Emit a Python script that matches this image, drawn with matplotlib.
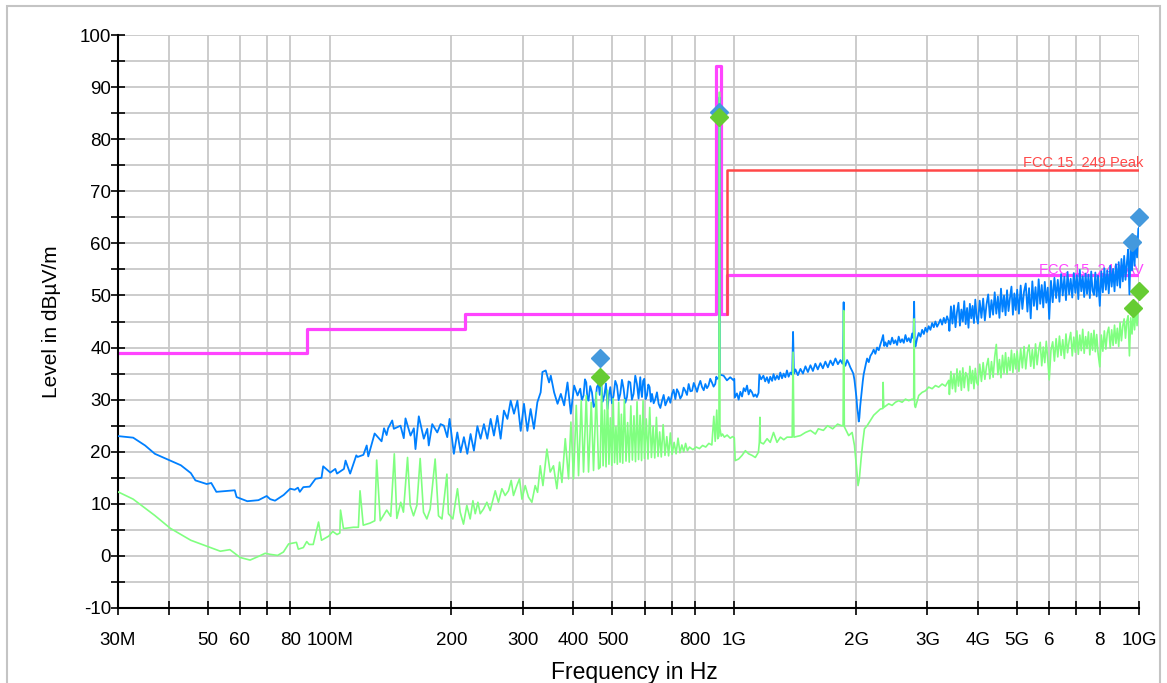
import matplotlib
matplotlib.use("Agg")
import matplotlib.pyplot as plt
from matplotlib.patches import Rectangle
from matplotlib.ticker import FixedLocator, FixedFormatter, NullLocator, MultipleLocator

plt.rcParams['font.family'] = ['Liberation Sans', 'DejaVu Sans']
plt.rcParams['axes.unicode_minus'] = False

# frequencies in MHz, levels in dBuV/m

# --- peak trace (blue) ---
peak_freq_low = [30, 32.7, 35, 37, 40.4, 42.9, 45.4, 46.6, 49.7, 51, 52.5, 58.3, 58.9, 62.6, 66.7,
                 69.9, 71.3, 73.3, 77, 79.9, 82, 83.5, 84.4, 86.1, 89.3, 92.3, 95.5, 96.4, 100.4,
                 103.3, 104.3, 108.5, 109.5, 112.4, 116.4, 117.3, 121.2, 123.5, 124.6, 129.2,
                 134.4, 136.3, 138.3, 139.5, 142.8]
peak_level_low = [23.0, 22.7, 21.2, 19.6, 18.3, 17.4, 15.9, 14.5, 13.8, 14.0, 12.3, 12.6, 11.3, 10.5, 10.7,
                  11.5, 10.9, 10.6, 11.7, 12.9, 12.7, 13.1, 12.3, 13.2, 13.3, 14.8, 15.0, 17.2, 16.0,
                  16.7, 15.8, 16.7, 18.3, 15.8, 19.3, 19.0, 19.4, 21.2, 19.1, 23.5,
                  22.0, 24.5, 23.2, 24.5, 26.0]

peak_freq_mid = [144.1, 149.7, 152.5, 154, 158.5, 161.5, 163, 166.1, 170.9, 174.3, 175.8, 179.3, 184.5,
                 188, 191.6, 195.3, 197.9, 202.8, 206.8, 210.7, 214.7, 218.9, 223, 227.3, 231.8, 236.1,
                 240.6, 245.3, 250, 254.7, 259.7, 264.6, 269.6, 275, 280.2, 285.5, 291.1, 296.6, 302.2,
                 308.1, 313.8, 319.8, 326.1, 332.3, 335.6, 342, 348.6, 352, 358.7, 365.8, 372.7, 379.8,
                 387.1, 394.5, 402, 409.9]
peak_level_mid = [24.4, 25.0, 22.6, 26.4, 23.1, 24.5, 20.5, 26.8, 22.5, 24.4, 21.2, 25.3, 23.7,
                  25.3, 25.0, 22.8, 26.3, 19.6, 23.7, 19.9, 22.8, 19.6, 23.4, 20.2, 24.9, 22.5,
                  25.3, 22.5, 26.3, 23.1, 26.9, 22.5, 27.9, 26.3, 29.8, 27.3, 29.8, 24.0, 29.2,
                  24.0, 28.2, 24.4, 29.5, 31.4, 35.3, 35.6, 33.3, 34.6, 31.4, 29.2, 31.1, 28.9,
                  33.3, 27.3, 32.7, 30.8]

peak_freq_uhf = [416.2, 420, 424.1, 427.5, 430.7, 433.5, 436.3, 440.5, 444.9, 449,
                 453.4, 457.6, 462, 465, 468.4, 472.8, 477.3, 481.8, 486.3, 490,
                 493.8, 498.5, 503.2, 508, 512.9, 517.8, 522.7, 527.7, 532.7, 537.8,
                 543, 548, 553.3, 558.5, 563.8, 569.2, 574.7, 580, 585.7, 588.5,
                 591.4, 595.3, 599.2, 603.8, 608.4, 613, 617.6, 622, 626.1, 632,
                 638, 644, 650.1, 656.5, 662.9, 669, 675.5, 682, 688.2, 695,
                 701.7, 708, 715, 721.5, 728.2, 735.3, 742.6, 749.6, 756.7, 764,
                 771.3, 779, 786.5, 794, 801.4, 808.9, 816.4, 824.4, 832.4, 840.3,
                 848.3, 856, 863.5, 872, 880.4, 888.8, 897.2, 902.6, 908,
                 916.5, 917.5, 920.5, 921.5]
peak_level_uhf = [32.1, 29.9, 30.8, 33.9, 33.3, 30.2, 29.8, 32.6, 31.4, 28.6,
                  29.2, 32.4, 33.0, 30.9, 34.0, 29.6, 30.8, 33.1, 28.2, 31.0,
                  32.4, 29.3, 30.8, 33.6, 32.7, 29.9, 31.1, 33.8, 32.1, 29.4,
                  30.5, 33.5, 33.3, 30.0, 31.1, 34.6, 33.0, 30.2, 34.3, 31.8,
                  30.5, 33.6, 34.0, 30.1, 30.8, 32.9, 32.4, 29.6, 31.1, 29.3,
                  30.1, 31.4, 29.2, 28.4, 29.8, 30.9, 28.9, 29.7, 30.5, 29.4,
                  31.1, 31.9, 30.1, 32.0, 31.4, 30.2, 30.8, 32.3, 31.7, 30.9,
                  33.0, 31.6, 31.7, 33.2, 32.4, 31.5, 32.7, 33.6, 32.4, 31.8,
                  33.0, 32.2, 32.7, 34.0, 33.3, 32.5, 33.0, 34.4, 34.0,
                  34.2, 88.0, 88.0, 34.8]

peak_freq_1g = [941, 959, 977, 996, 1000, 1003, 1015, 1025, 1035, 1045, 1055, 1065, 1075, 1085, 1095,
                1106, 1116, 1127, 1137, 1148, 1153, 1165, 1180, 1192, 1204, 1216, 1227, 1240, 1250,
                1262, 1275, 1288, 1299, 1312, 1324, 1337, 1349, 1362, 1376, 1390, 1397, 1404, 1416,
                1436, 1457, 1478, 1499, 1520, 1542, 1564, 1586, 1608, 1632, 1655, 1679, 1703, 1728,
                1752, 1778, 1803, 1829, 1850, 1857, 1863, 1869]
peak_level_1g = [34.6, 33.7, 34.3, 33.7, 34.0, 30.4, 31.2, 30.0, 31.5, 30.6, 32.2, 31.6, 32.7, 31.0, 31.9,
                 31.4, 30.6, 31.0, 30.5, 31.3, 34.8, 33.9, 34.6, 33.5, 34.3, 33.2, 34.4, 33.6, 34.9,
                 33.8, 34.6, 33.9, 35.2, 34.1, 35.0, 34.3, 35.6, 34.4, 35.2, 34.8, 43.0, 35.0, 35.8,
                 34.7, 35.9, 35.0, 36.4, 35.3, 36.6, 35.5, 36.9, 35.8, 37.0, 36.0, 37.3, 36.2, 37.5,
                 36.6, 37.9, 36.8, 37.6, 36.9, 37.8, 48.7, 37.0]

peak_freq_2g = [1881, 1900, 1917, 1935, 1955, 1968, 1981, 1993, 2003, 2012, 2022, 2030, 2037, 2047,
                2057, 2067, 2077, 2087, 2097, 2113, 2129, 2149, 2169, 2190, 2210, 2231, 2253, 2275,
                2296, 2314, 2332, 2347, 2363, 2385, 2407, 2430, 2454, 2478, 2501, 2525, 2548, 2573,
                2598, 2623, 2648, 2673, 2698, 2725, 2751, 2770, 2782, 2792, 2803, 2830, 2856, 2884,
                2912, 2940, 2967, 2995, 3022, 3052, 3082, 3111, 3140, 3170, 3199, 3231, 3262, 3293,
                3324, 3355, 3387]
peak_level_2g = [36.5, 37.6, 37.0, 36.2, 35.5, 35.0, 33.8, 32.0, 30.5, 28.5, 27.2, 25.8, 26.5, 28.8,
                 30.4, 32.0, 33.5, 34.8, 35.6, 36.8, 37.9, 37.2, 38.4, 38.9, 39.6, 38.8, 40.0, 39.5,
                 40.6, 41.4, 42.4, 40.3, 41.0, 40.2, 41.3, 40.6, 41.9, 40.8, 41.4, 40.5, 42.1, 41.0,
                 41.6, 40.9, 42.4, 41.2, 41.8, 41.0, 42.7, 41.8, 48.8, 40.8, 40.2, 41.8, 42.8, 42.1,
                 43.4, 42.6, 43.8, 43.0, 44.1, 43.4, 44.7, 43.9, 45.0, 44.0, 44.6, 45.4, 44.4, 45.7,
                 44.7, 46.0, 45.0]

# sweep points 3.4 GHz - 10 GHz shared by both detectors
freq_hi = [3400, 3430, 3460, 3490, 3520, 3550, 3580, 3610, 3640, 3670, 3700, 3730, 3760, 3790, 3820,
           3850, 3880, 3910, 3940, 3970,
           4000, 4040, 4080, 4120, 4160, 4200, 4240, 4280, 4320, 4360, 4400, 4440, 4480, 4520, 4560,
           4600, 4640, 4680, 4720, 4760, 4800, 4840, 4880, 4920, 4960,
           5000, 5050, 5100, 5150, 5200, 5250, 5300, 5350, 5400, 5450, 5500, 5550, 5600, 5650, 5700,
           5750, 5800, 5850, 5900, 5950,
           6000, 6060, 6120, 6180, 6240, 6300, 6360, 6420, 6480, 6540, 6600, 6660, 6720, 6780, 6840,
           6900, 6960, 7020, 7080, 7140, 7200, 7260, 7320, 7380, 7440, 7500, 7560, 7620, 7680, 7740,
           7800, 7860, 7920,
           8000, 8070, 8140, 8210, 8280, 8350, 8420, 8490, 8560, 8630, 8700, 8770, 8840, 8910, 8980,
           9050, 9120, 9190, 9260, 9330, 9400, 9470, 9540, 9610, 9680, 9750, 9820, 9890, 9960, 10000]
peak_level_hi = [43.2, 47.9, 44.6, 48.1, 43.9, 46.8, 48.6, 44.2, 47.3, 45.0, 48.9, 44.5, 47.6, 43.8, 48.4,
                 45.6, 48.0, 44.7, 49.2, 45.9,
                 44.6, 49.0, 45.7, 49.4, 45.2, 48.3, 50.2, 45.8, 49.1, 46.3, 50.6, 46.5, 49.8, 45.7, 51.3,
                 46.9, 50.0, 46.2, 51.0, 47.0, 49.6, 51.7, 46.3, 50.4, 47.2,
                 51.1, 46.5, 51.9, 47.4, 50.8, 52.3, 46.9, 51.4, 45.6, 52.7, 48.0, 51.6, 47.3, 53.1, 48.4,
                 52.0, 47.7, 52.6, 48.6, 51.5,
                 45.5, 52.8, 48.7, 53.4, 49.5, 53.0, 48.8, 54.1, 50.0, 53.6, 49.1, 54.5, 50.2, 53.2, 49.6,
                 54.3, 50.5, 53.9, 49.3, 54.9, 50.8, 53.7, 49.7, 54.2, 50.3, 54.0, 49.5, 54.6, 50.9, 50.1,
                 54.4, 49.8, 53.8,
                 48.0, 54.6, 50.6, 55.2, 51.1, 54.8, 50.4, 55.7, 51.7, 55.1, 50.8, 56.0, 51.9, 56.4, 51.5,
                 57.0, 52.7, 57.6, 53.0, 56.2, 58.8, 50.2, 59.5, 54.8, 60.8, 55.7, 61.4, 57.3, 62.8, 63.0]

# --- average trace (green) ---
avg_freq_low = [30, 32.7, 37.0, 40.4, 45.4, 50.2, 53.7, 56.7, 60.1, 63.6, 66.7, 69.3, 71.3, 74.4, 76.9,
                79.2, 82.8, 83.7, 86.1, 87.8, 89.0, 91.1, 93.9, 95.5, 99.5, 101.8, 104.3, 106.0, 106.4,
                108.2, 114.5, 117.8, 118.9, 121.1, 125.9, 129.3, 130.7, 133.4, 138.4, 141.6, 144.5, 146.6]
avg_level_low = [12.3, 10.9, 7.75, 5.3, 3.0, 1.75, 0.9, 1.2, -0.3, -0.8, -0.1, 0.5, 0.3, 0.1, 0.75,
                 2.3, 2.6, 1.3, 1.6, 2.75, 2.2, 2.2, 6.5, 3.0, 3.8, 4.7, 4.1, 4.4, 8.8,
                 5.25, 5.5, 5.5, 12.5, 5.9, 6.3, 6.75, 18.4, 6.75, 8.8, 7.6, 19.6, 7.2]

avg_freq_mid = [149.9, 152.2, 155.8, 158.2, 161.2, 164.3, 167.4, 170.6, 173.9, 177.2, 182.3, 185.8, 189.5,
                194.9, 196.6, 201.6, 207, 210.2, 214.2, 218.3, 222.5, 226, 229, 232.5, 235.6, 240, 244.7,
                249.3, 256.6, 261.3, 266.5, 271.5, 276.7, 281, 284.7, 290.2, 294.6, 298.7, 304.3, 310,
                316.1, 322.1, 326.5, 331.5, 336.6, 344.3, 350.8, 357.4, 364.4, 370, 375, 382.2, 389.4,
                394.7, 400.6, 406.9, 412.2, 418.6, 424.1, 430.7, 436.3, 443.1, 448.9, 455.9, 462]
avg_level_mid = [10.3, 8.4, 18.9, 9.7, 7.7, 9.7, 18.7, 8.4, 7.1, 9.0, 18.6, 7.7, 7.1,
                 15.7, 8.1, 7.1, 12.9, 8.4, 6.1, 9.7, 7.1, 10.6, 8.1, 10.3, 8.1, 9.0, 10.3,
                 8.7, 12.5, 10.3, 12.9, 11.6, 12.5, 14.5, 11.6, 13.5, 14.8, 10.9, 13.5, 11.3,
                 10.3, 13.5, 12.2, 17.3, 13.5, 20.5, 16.1, 17.3, 12.9, 18.0, 14.1, 22.5, 14.8,
                 25.7, 14.8, 28.9, 15.4, 29.8, 16.1, 30.8, 16.1, 29.5, 16.4, 31.4, 16.7]

avg_freq_uhf = [466, 470, 474, 478, 482, 486, 490, 494, 498, 502, 506, 510, 514, 518, 522, 526, 530,
                535, 540, 545, 550, 555, 560, 565, 570, 575, 580, 585, 590, 595, 600, 606, 612, 618,
                624, 630, 636, 642, 648, 654, 660, 667, 674, 681, 688, 695, 702, 710, 718, 726, 734,
                742, 750, 758, 766, 775, 790, 805, 820, 835, 850, 865, 880, 890, 897, 905, 910,
                916.5, 917.5, 920.5, 921.5, 928, 935, 945, 960, 977, 990, 1000]
avg_level_uhf = [17.0, 32.5, 17.3, 28.0, 17.1, 31.8, 17.6, 26.5, 17.4, 30.2, 17.9, 24.8, 17.6, 29.5,
                 18.0, 27.2, 17.8, 30.0, 18.2, 25.6, 18.0, 28.8, 18.4, 26.9, 18.1, 29.6, 18.5, 27.0,
                 18.3, 29.8, 18.7, 26.3, 18.6, 28.5, 18.9, 24.9, 18.8, 26.6, 19.1, 23.8, 19.0, 25.2,
                 19.3, 22.9, 19.2, 23.6, 19.5, 21.8, 19.6, 22.6, 19.8, 21.3, 20.0, 21.6, 20.2, 20.9,
                 20.4, 20.9, 20.6, 21.2, 20.9, 21.6, 21.3, 26.8, 22.0, 28.0, 22.5,
                 23.0, 89.0, 89.0, 24.5, 23.0, 23.4, 22.8, 23.2, 22.6, 22.9, 22.7]

avg_freq_1g = [1005, 1025, 1045, 1065, 1085, 1106, 1127, 1147, 1153, 1157, 1160, 1180, 1205, 1227,
               1250, 1275, 1300, 1325, 1350, 1390, 1397, 1404, 1457, 1499, 1542, 1586, 1613, 1660,
               1700, 1750, 1800, 1840, 1857, 1863, 1870, 1881, 1917, 1955, 1981, 2003, 2022, 2037,
               2057, 2077, 2097, 2129, 2169, 2210, 2253, 2296, 2328, 2332, 2340, 2407, 2454, 2501,
               2548, 2598, 2648, 2698, 2751, 2775, 2782, 2790, 2803, 2856, 2912, 2967, 3022, 3082,
               3140, 3199, 3262, 3324, 3387]
avg_level_1g = [18.3, 18.6, 19.3, 20.2, 19.6, 19.3, 18.9, 19.9, 21.8, 26.6, 21.8, 21.5, 22.5, 21.8,
                23.7, 21.8, 22.8, 22.3, 22.8, 22.8, 39.1, 22.8, 23.1, 23.7, 24.1, 23.4, 24.4, 24.1,
                25.0, 24.4, 25.3, 25.0, 25.0, 47.1, 24.8, 24.4, 23.1, 23.7, 21.2, 17.3, 13.5, 14.8,
                18.6, 21.8, 24.4, 25.0, 26.0, 27.0, 27.6, 28.2, 28.3, 33.3, 28.5, 29.2, 28.9, 29.5,
                29.8, 29.5, 30.1, 29.8, 30.1, 30.0, 45.5, 29.0, 28.5, 30.8, 31.4, 31.7, 32.4, 32.1,
                32.7, 32.4, 33.0, 32.6, 33.7]

avg_level_hi = [31.0, 35.4, 32.1, 34.9, 31.5, 35.9, 32.6, 35.5, 31.8, 36.1, 32.3, 35.2, 34.6, 31.7, 36.4,
                33.1, 35.6, 32.1, 36.0, 33.3,
                32.8, 36.8, 33.5, 37.1, 33.9, 36.4, 37.9, 34.0, 37.3, 34.3, 38.2, 40.6, 34.8, 37.7, 34.2,
                38.5, 35.1, 39.0, 34.9, 38.1, 35.6, 39.5, 35.2, 38.8, 35.9,
                39.3, 35.4, 39.8, 36.1, 40.2, 35.9, 39.1, 40.5, 36.4, 39.6, 36.0, 40.7, 36.7, 39.4, 41.0,
                36.5, 40.1, 37.1, 41.2, 37.7,
                33.8, 39.5, 41.1, 37.4, 41.7, 38.2, 42.2, 38.5, 41.5, 37.9, 42.6, 39.0, 41.3, 42.9, 38.4,
                42.0, 39.1, 43.2, 38.7, 42.4, 39.4, 43.5, 38.9, 42.1, 39.8, 43.0, 38.6, 42.7, 39.5, 43.3,
                39.2, 42.5, 39.0,
                36.3, 42.4, 39.3, 43.2, 39.7, 42.8, 43.9, 39.9, 43.4, 40.4, 44.3, 40.8, 43.7, 40.2, 44.8,
                41.3, 44.2, 45.5, 41.8, 45.0, 46.1, 38.4, 45.7, 42.6, 46.8, 43.4, 47.4, 44.2, 48.0, 47.8]

# --- limit lines ---
av_limit_freq = [30, 88, 88, 216, 216, 902, 902, 928, 928, 960, 960, 10000]
av_limit_level = [39, 39, 43.5, 43.5, 46.5, 46.5, 94, 94, 46.5, 46.5, 54, 54]
pk_limit_freq = [960, 960, 10000]
pk_limit_level = [46.5, 74, 74]

# --- final measurement markers ---
pk_mark_freq = [465, 919, 9620, 10000]
pk_mark_level = [38.0, 85.3, 60.3, 65.0]
av_mark_freq = [465, 919, 9675, 10000]
av_mark_level = [34.4, 84.3, 47.6, 50.9]

x_ticks = [30, 40, 50, 60, 70, 80, 100, 200, 300, 400, 500, 600, 700, 800, 1000,
           2000, 3000, 4000, 5000, 6000, 7000, 8000, 10000]
x_tick_labels = ['30M', '', '50', '60', '', '80', '100M', '200', '300', '400', '500', '', '', '800', '1G',
                 '2G', '3G', '4G', '5G', '6', '', '8', '10G']

peak_freq = peak_freq_low + peak_freq_mid + peak_freq_uhf + peak_freq_1g + peak_freq_2g + freq_hi
peak_level = peak_level_low + peak_level_mid + peak_level_uhf + peak_level_1g + peak_level_2g + peak_level_hi
avg_freq = avg_freq_low + avg_freq_mid + avg_freq_uhf + avg_freq_1g + freq_hi
avg_level = avg_level_low + avg_level_mid + avg_level_uhf + avg_level_1g + avg_level_hi

W, H = 1167, 683
fig = plt.figure(figsize=(W / 100, H / 100), dpi=100)
ax = fig.add_axes([118 / W, 1 - 608 / H, (1139 - 118) / W, (608 - 35) / H])

ax.set_xscale('log')
ax.set_xlim(30, 10000)
ax.set_ylim(-10, 100)

ax.xaxis.set_major_locator(FixedLocator(x_ticks))
ax.xaxis.set_major_formatter(FixedFormatter(x_tick_labels))
ax.xaxis.set_minor_locator(NullLocator())
ax.yaxis.set_major_locator(MultipleLocator(10))
ax.yaxis.set_minor_locator(MultipleLocator(5))

ax.grid(True, which='both', color='#c8c8c8', lw=1.3)
ax.set_axisbelow(True)
ax.tick_params(which='both', direction='inout', length=10, width=1.2, color='black', labelsize=13.5)
ax.tick_params(axis='x', pad=12)
ax.tick_params(axis='y', pad=0)
for s in ['top', 'right']:
    ax.spines[s].set_visible(False)
for s in ['left', 'bottom']:
    ax.spines[s].set_linewidth(1.5)

# limits
ax.plot(av_limit_freq, av_limit_level, color='#ff44ff', lw=2.3, zorder=2)
ax.plot(pk_limit_freq, pk_limit_level, color='#ff4848', lw=1.8, zorder=2)
ax.text(10230, 74.8, 'FCC 15_249 Peak', color='#ff4848', ha='right', va='baseline',
        fontsize=10.5, clip_on=False, zorder=2)
ax.text(10270, 54.4, 'FCC 15_249 AV', color='#ff44ff', ha='right', va='baseline',
        fontsize=10.5, clip_on=False, zorder=2)

# traces
ax.plot(peak_freq, peak_level, color='#0080ff', lw=1.3, zorder=3)
ax.plot(avg_freq, avg_level, color='#80ff80', lw=1.2, zorder=4)

# markers
ax.plot(pk_mark_freq, pk_mark_level, 'D', color='#4499dd', ms=9, ls='none', zorder=6, clip_on=False)
ax.plot(av_mark_freq, av_mark_level, 'D', color='#66cc33', ms=9, ls='none', zorder=6, clip_on=False)

fig.text(52 / W, 1 - 322 / H, 'Level in dBµV/m', rotation=90, ha='center', va='center', fontsize=15)
fig.text(634 / W, 1 - 672 / H, 'Frequency in Hz', ha='center', va='center', fontsize=16.5)

fig.patches.append(Rectangle((7 / W, -0.02), (1160 - 7) / W, 1 - 6 / H + 0.02,
                             transform=fig.transFigure, fill=False, ec='#c4c4c4', lw=1.5))

fig.savefig('out.png', dpi=100)
